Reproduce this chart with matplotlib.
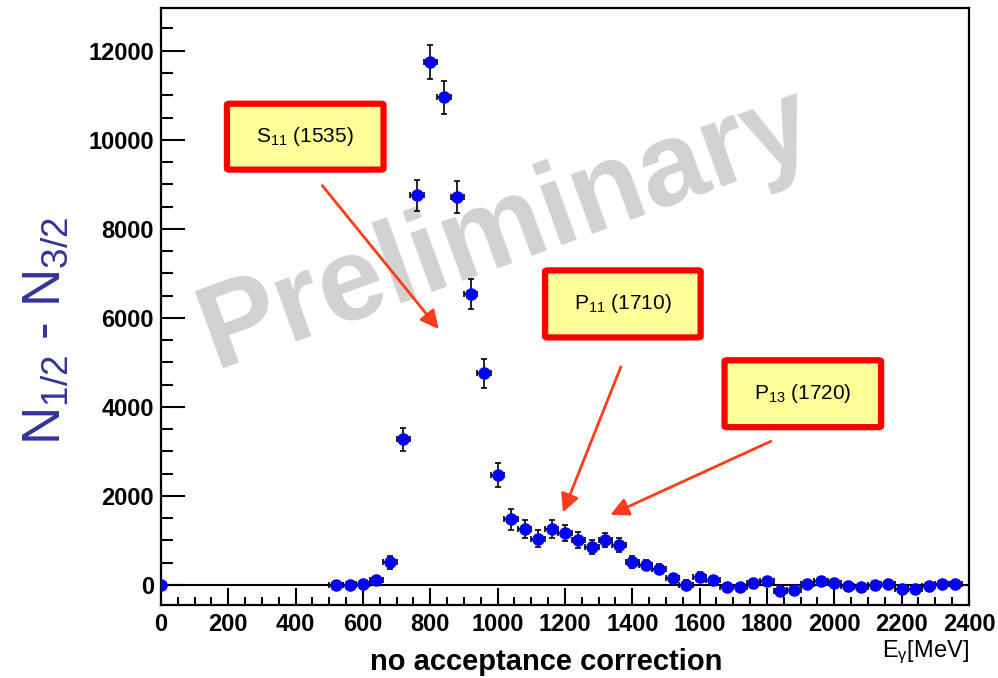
import matplotlib
matplotlib.use("Agg")
import matplotlib.pyplot as plt
from matplotlib.patches import FancyBboxPatch
from matplotlib.ticker import MultipleLocator
import numpy as np

plt.rcParams['font.family'] = ['Liberation Sans', 'DejaVu Sans']
plt.rcParams['mathtext.fontset'] = 'custom'
plt.rcParams['mathtext.rm'] = 'Liberation Sans'
plt.rcParams['mathtext.it'] = 'Liberation Sans'
plt.rcParams['mathtext.bf'] = 'Liberation Sans:bold'

# Helicity difference per photon energy bin (40 MeV wide)
e_gamma = [0, 520, 560, 600, 640, 680, 720, 760, 800, 840, 880, 920, 960,
           1000, 1040, 1080, 1120, 1160, 1200, 1240, 1280, 1320, 1360, 1400,
           1440, 1480, 1520, 1560, 1600, 1640, 1680, 1720, 1760, 1800, 1840,
           1880, 1920, 1960, 2000, 2040, 2080, 2120, 2160, 2200, 2240, 2280,
           2320, 2360]
n_diff = [0, 0, 10, 20, 100, 510, 3270, 8750, 11740, 10950, 8710, 6540, 4750,
          2460, 1480, 1250, 1040, 1265, 1175, 1010, 850, 1010, 890, 520,
          450, 355, 145, 0, 180, 115, -45, -45, 50, 90, -130,
          -115, 15, 80, 50, -20, -45, 10, 30, -90, -100, -30,
          25, 15]
n_err = [0, 60, 60, 60, 70, 150, 260, 350, 385, 380, 360, 340, 315,
         270, 235, 200, 190, 200, 180, 170, 165, 165, 160, 130,
         120, 115, 105, 100, 100, 95, 90, 90, 90, 90, 85,
         85, 85, 85, 80, 80, 80, 80, 80, 80, 80, 80,
         80, 80]
bin_half = [0] + [20] * (len(e_gamma) - 1)

# resonance labels: text, box (x0, x1, y0, y1), arrow tail, arrow tip
resonances = [
    (r"S$_{11}$ (1535)", (196, 661, 9330, 10810), (474, 9020), (830, 5700)),
    (r"P$_{11}$ (1710)", (1141, 1603, 5560, 7066), (1369, 4957), (1191, 1570)),
    (r"P$_{13}$ (1720)", (1674, 2139, 3544, 5047), (1819, 3253), (1327, 1548)),
]

fig = plt.figure(figsize=(9.98, 6.78), dpi=100)
ax = fig.add_axes([0.1613, 0.1077, 0.8096, 0.8805])

ax.set_xlim(0, 2400)
ax.set_ylim(-450, 12960)

# watermark behind everything
ax.text(0.428, 0.628, "Preliminary", transform=ax.transAxes, fontsize=85,
        fontweight='bold', color='#d2d2d2', rotation=20, ha='center',
        va='center', zorder=0)

ax.axhline(0, color='black', lw=1.5, zorder=1)

ax.errorbar(e_gamma, n_diff, yerr=n_err, xerr=bin_half, fmt='o',
            color='#0000ff', ecolor='black', elinewidth=1.2, capsize=2.2,
            capthick=1.2, markersize=8, zorder=3)

for label, (x0, x1, y0, y1), tail, tip in resonances:
    box = FancyBboxPatch((x0, y0), x1 - x0, y1 - y0,
                         boxstyle="round,pad=0,rounding_size=8",
                         facecolor='#ffff99', edgecolor='#ff0000', lw=4.5,
                         zorder=4, mutation_aspect=(12960 + 450) / 2400 * 808 / 597 * 0.45)
    ax.add_patch(box)
    ax.text((x0 + x1) / 2, (y0 + y1) / 2, label, fontsize=15, ha='center',
            va='center', zorder=5)
    ax.annotate("", xy=tip, xytext=tail, zorder=5,
                arrowprops=dict(arrowstyle="-|>,head_length=1.1,head_width=0.55",
                                color='#ff3d1a', lw=2))

ax.xaxis.set_major_locator(MultipleLocator(200))
ax.xaxis.set_minor_locator(MultipleLocator(50))
ax.yaxis.set_major_locator(MultipleLocator(2000))
ax.yaxis.set_minor_locator(MultipleLocator(500))
ax.tick_params(which='both', direction='in', width=1.5, labelsize=17)
ax.tick_params(axis='x', which='major', length=12, pad=6)
ax.tick_params(axis='x', which='minor', length=6)
ax.tick_params(axis='y', which='major', length=17, pad=5)
ax.tick_params(axis='y', which='minor', length=8.5)
ax.tick_params(top=False, right=False, which='both')
for lab in ax.get_xticklabels() + ax.get_yticklabels():
    lab.set_fontweight('bold')
for sp in ax.spines.values():
    sp.set_linewidth(1.6)

fig.text(546 / 998, 1 - 662 / 678, "no acceptance correction", fontsize=21,
         fontweight='bold', ha='center', va='center')
fig.text(969 / 998, 1 - 652 / 678, r"E$_{\gamma}$[MeV]", fontsize=17,
         ha='right', va='center')
fig.text(21 / 998, 1 - 331 / 678, r"N$_{1/2}$ - N$_{3/2}$", fontsize=38,
         color='#33339a', rotation=90, ha='left', va='center')

fig.savefig("out.png", dpi=100)
